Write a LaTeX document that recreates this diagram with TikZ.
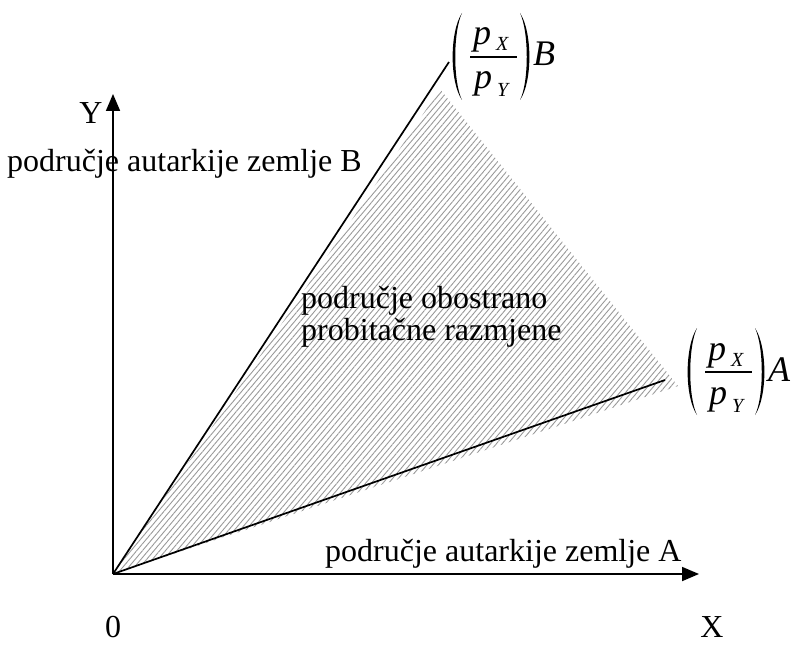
\documentclass[tikz,border=0pt]{standalone}
\usepackage{amsmath}
\usepackage{fontspec}
\setmainfont{Liberation Serif}
\usetikzlibrary{arrows.meta,patterns.meta}
\begin{document}
\begin{tikzpicture}[x=1pt,y=-1pt,
  lbl/.style={inner sep=0pt,font=\fontsize{32}{32}\selectfont},
  mlet/.style={inner sep=0pt,font=\fontsize{36}{36}\selectfont\itshape},
  slet/.style={inner sep=0pt,font=\fontsize{20}{20}\selectfont\itshape},
  axis/.style={line width=1.8pt,-{Triangle[length=17pt,width=14pt]}},
  ray/.style={line width=1.7pt},
  hatch/.style={pattern={Lines[angle=50,distance=4.4pt,line width=0.9pt]},pattern color=black!40},
  ratio/.pic={
    \fill (9,-44) .. controls (-3.5,-25) and (-3.5,25) .. (9,43)
          .. controls (0,25) and (0,-25) .. (9,-44) -- cycle;
    \fill (67,-44) .. controls (79.5,-25) and (79.5,25) .. (67,43)
          .. controls (76,25) and (76,-25) .. (67,-44) -- cycle;
    \draw[line width=1.1pt] (17,0) -- (64,0);
    \node[mlet,anchor=base west] (pn) at (20,-12) {p};
    \node[slet,anchor=base west] (xs) at (43,-6) {X};
    \node[mlet,anchor=base west] (pd) at (21,32) {p};
    \node[slet,anchor=base west] (ys) at (44,40) {Y};
    \node[mlet,anchor=base west] (lt) at (80,9) {#1};
  }]
\useasboundingbox (0,0) rectangle (794,652);
\coordinate (O) at (113,574);
\coordinate (Ytip) at (113,94);
\coordinate (Xtip) at (699,574);
\coordinate (Bend) at (449,62);
\coordinate (Aend) at (665,380);
\coordinate (Htop) at (440,89);
\coordinate (Hright) at (678,386);
% hatched region
\fill[hatch] (O) -- (Htop) -- (Hright) -- cycle;
% texts
\node[lbl,anchor=base] (ylab) at (91,124) {Y};
\node[lbl,anchor=base west] (zB) at (7,172) {područje autarkije zemlje B};
\node[lbl,anchor=base west,align=left] (mid) at (301,340) {područje obostrano\\probitačne razmjene};
\node[lbl,anchor=base west] (zA) at (325,561) {područje autarkije zemlje A};
\node[lbl,anchor=base] (zero) at (113,637) {0};
\node[lbl,anchor=base] (xlab) at (712,637) {X};
\pic (fB) at (453,57) {ratio=B};
\pic (fA) at (688,372) {ratio=A};
% rays
\draw[ray] (O) -- (Bend);
\draw[ray] (O) -- (Aend);
% axes
\draw[axis] (O) -- (Ytip);
\draw[axis] (O) -- (Xtip);
\end{tikzpicture}
\end{document}
